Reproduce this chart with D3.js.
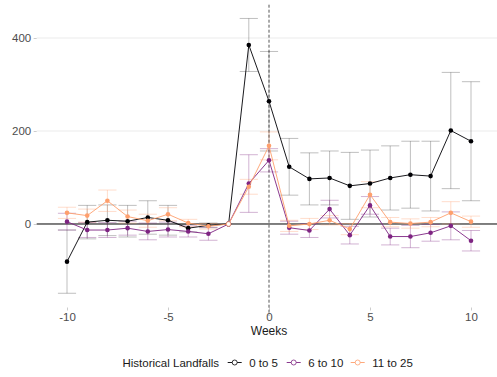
<!DOCTYPE html>
<html>
<head>
<meta charset="utf-8">
<script src="https://cdn.jsdelivr.net/npm/d3@7/dist/d3.min.js"></script>
<style>
  html, body { margin: 0; padding: 0; background: #ffffff; }
  svg { display: block; font-family: "Liberation Sans", Arial, sans-serif; }
</style>
</head>
<body>
<svg id="chart" width="497" height="377"></svg>
<script>
// Event-study estimates by number of historical landfalls
const weeks = d3.range(-10, 11);

const groups = ["0 to 5", "6 to 10", "11 to 25"];
const groupColors = ["#000004", "#7E2482", "#FE9F6D"];

const est0to5 = [-81, 4, 8, 6, 14, 8, -9, -3, 0, 385, 264, 123, 97, 99, 82, 87, 99, 106, 103, 201, 178];
const err0to5 = [68, 36, 33, 34, 36, 32, 8, 5, 0, 57, 107, 61, 56, 58, 72, 72, 69, 72, 75, 125, 128];

const est6to10 = [5, -13, -13, -9, -16, -12, -16, -21, 0, 87, 137, -8, -14, 32, -24, 40, -27, -27, -19, -4, -36];
const err6to10 = [18, 16, 16, 15, 18, 16, 12, 14, 0, 62, 25, 14, 15, 19, 19, 19, 18, 24, 18, 30, 22];

const est11to25 = [24, 18, 50, 16, 7, 21, 2, -5, 0, 80, 168, -4, 0, 8, -11, 63, 4, 1, 4, 24, 5];
const err11to25 = [12, 14, 23, 14, 14, 14, 8, 6, 0, 16, 30, 12, 12, 10, 12, 28, 10, 10, 10, 24, 12];

const xTicks = [-10, -5, 0, 5, 10];
const yTicks = [0, 200, 400];
const gridTicks = [200, 400];
const refWeek = -2;

const estimates = [est0to5, est6to10, est11to25];
const errors = [err0to5, err6to10, err11to25];

const series = groups.map((g, i) => ({
  name: g,
  color: groupColors[i],
  values: weeks.map((w, j) => ({ week: w, est: estimates[i][j], err: errors[i][j] }))
}));

const svg = d3.select("#chart");

const panel = { left: 36.7, right: 501.3, top: 4.7, bottom: 307.5 };

const x = d3.scaleLinear().domain([-11.5, 11.5]).range([panel.left, panel.right]);
const y = d3.scaleLinear().domain([-179.6, 471.6]).range([panel.bottom, panel.top]);

// horizontal grid
svg.append("g")
  .selectAll("line")
  .data(gridTicks)
  .join("line")
  .attr("x1", panel.left).attr("x2", panel.right)
  .attr("y1", d => y(d)).attr("y2", d => y(d))
  .attr("stroke", "#EBEBEB").attr("stroke-width", 1.2);

// axes
const xAxis = svg.append("g")
  .attr("transform", `translate(0,${panel.bottom})`)
  .call(d3.axisBottom(x).tickValues(xTicks).tickSize(3).tickPadding(2.5).tickFormat(d3.format("d")));
xAxis.select(".domain").remove();

const yAxis = svg.append("g")
  .attr("transform", `translate(${panel.left},0)`)
  .call(d3.axisLeft(y).tickValues(yTicks).tickSize(3).tickPadding(2.5).tickFormat(d3.format("d")));
yAxis.select(".domain").remove();

[xAxis, yAxis].forEach(a => {
  a.selectAll(".tick line").attr("stroke", "#CCCCCC").attr("stroke-width", 1);
  a.selectAll(".tick text")
    .attr("fill", "#4D4D4D")
    .style("font-size", "11.5px")
    .style("font-family", "'Liberation Sans', Arial, sans-serif");
});
xAxis.selectAll(".tick text").text(d => d < 0 ? "-" + Math.abs(d) : d);

// zero reference line and event line
svg.append("line")
  .attr("x1", panel.left).attr("x2", panel.right)
  .attr("y1", y(0)).attr("y2", y(0))
  .attr("stroke", "#000000").attr("stroke-width", 1);

svg.append("line")
  .attr("x1", x(0)).attr("x2", x(0))
  .attr("y1", panel.top).attr("y2", panel.bottom + 8)
  .attr("stroke", "#555555").attr("stroke-width", 1)
  .attr("stroke-dasharray", "3,2");

const capHalf = 0.45;

// error bars
series.forEach(s => {
  const g = svg.append("g")
    .attr("stroke", s.color)
    .attr("stroke-opacity", s.name === "0 to 5" ? 0.25 : 0.35)
    .attr("stroke-width", 1)
    .attr("fill", "none");
  const bars = s.values.filter(d => d.err > 0);
  g.selectAll("path")
    .data(bars)
    .join("path")
    .attr("d", d => {
      const x0 = x(d.week - capHalf), x1 = x(d.week + capHalf), xc = x(d.week);
      const yt = y(d.est + d.err), yb = y(d.est - d.err);
      return `M${x0},${yt}H${x1}M${xc},${yt}V${yb}M${x0},${yb}H${x1}`;
    });
});

// lines and points
const line = d3.line().x(d => x(d.week)).y(d => y(d.est));
series.forEach(s => {
  svg.append("path")
    .datum(s.values)
    .attr("d", line)
    .attr("fill", "none")
    .attr("stroke", s.color)
    .attr("stroke-width", 0.9);
  svg.append("g")
    .selectAll("circle")
    .data(s.values)
    .join("circle")
    .attr("cx", d => x(d.week))
    .attr("cy", d => y(d.est))
    .attr("r", 2.3)
    .attr("fill", d => d.week === refWeek ? "#ffffff" : s.color)
    .attr("stroke", s.color)
    .attr("stroke-width", d => d.week === refWeek ? 0.8 : 0);
});

// axis title
svg.append("text")
  .attr("x", x(0)).attr("y", 334.5)
  .attr("text-anchor", "middle")
  .attr("fill", "#1A1A1A")
  .style("font-size", "12px")
  .text("Weeks");

// legend
const legend = svg.append("g");
const legendY = 362.5;
legend.append("text")
  .attr("x", 122.5).attr("y", legendY + 4)
  .attr("fill", "#1A1A1A")
  .style("font-size", "11.5px")
  .text("Historical Landfalls");

const keyX = [227.7, 286.7, 350.7];
series.forEach((s, i) => {
  const k = legend.append("g").attr("transform", `translate(${keyX[i]},${legendY})`);
  k.append("line").attr("x1", 0).attr("x2", 14).attr("y1", 0).attr("y2", 0)
    .attr("stroke", s.color).attr("stroke-width", 0.9);
  k.append("circle").attr("cx", 7).attr("cy", 0).attr("r", 2.5)
    .attr("fill", "#ffffff").attr("stroke", s.color).attr("stroke-width", 0.8);
  k.append("text").attr("x", 21.5).attr("y", 4)
    .attr("fill", "#1A1A1A")
    .style("font-size", "11.5px")
    .text(s.name);
});
</script>
</body>
</html>
